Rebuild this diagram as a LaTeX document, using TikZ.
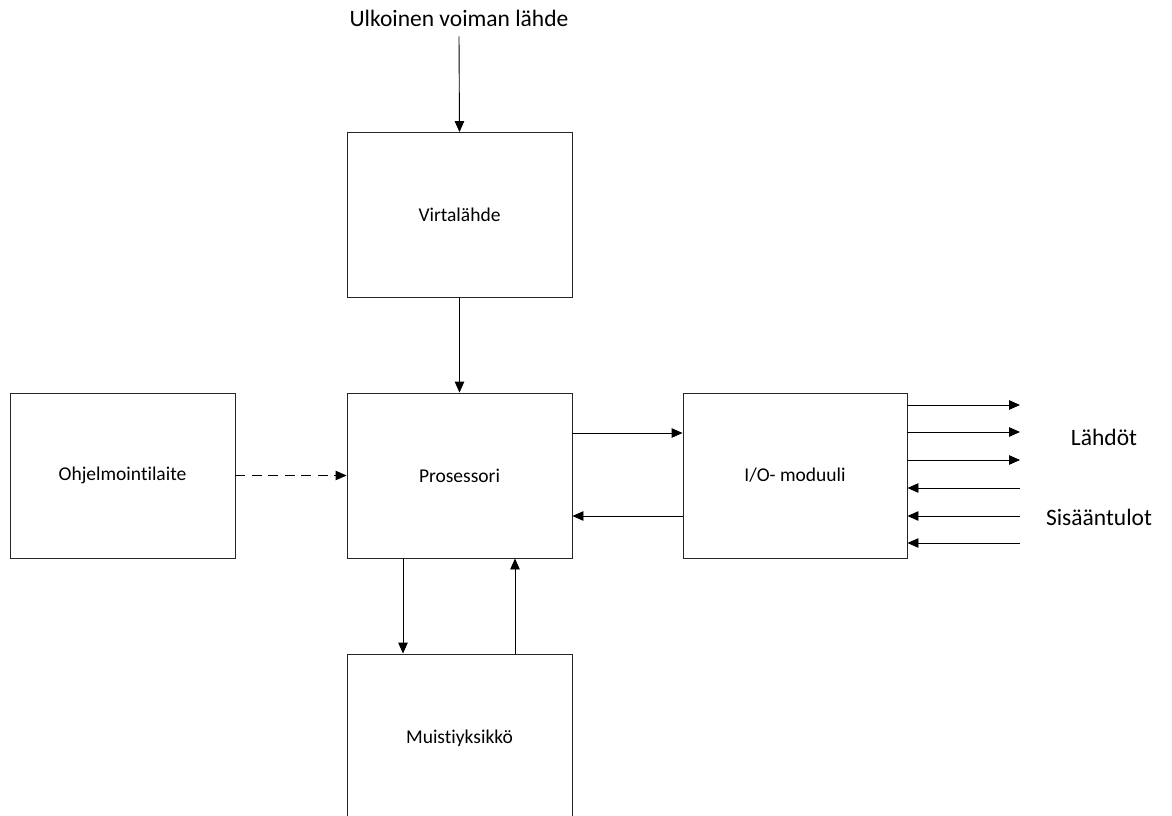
\documentclass[tikz,border=0pt]{standalone}
\usepackage{fontspec}
\setmainfont{Carlito}[Ligatures={NoCommon}]
\usetikzlibrary{arrows.meta}
\begin{document}
\begin{tikzpicture}[x=1pt,y=-1pt,
  block/.style={draw=black!85,line width=0.9pt,minimum width=225pt,minimum height=165pt,
    inner sep=0pt,font=\fontsize{19.5}{22}\selectfont},
  biglabel/.style={font=\fontsize{23.5}{27}\selectfont,inner sep=0pt},
  arr/.style={line width=0.9pt,-{Triangle[length=11pt,width=9.5pt]}},
  dasharr/.style={arr,dash pattern=on 10pt off 6.5pt}]
\useasboundingbox (0,0) rectangle (1172,816);

% blocks
\node[block] (virt) at (459.5,215) {Virtalähde};
\node[block] (proc) at (459.5,475.5) {Prosessori};
\node[block] (prog) at (122.5,475.5) {Ohjelmointilaite};
\node[block,minimum width=224pt] (io) at (795,475.5) {I/O- moduuli};
\node[block,minimum height=168pt] (mem) at (459.5,738) {Muistiyksikkö};

% external labels
\node[biglabel] (src) at (459,18) {Ulkoinen voiman lähde};
\node[biglabel] (outs) at (1104,437) {Lähdöt};
\node[biglabel] (ins) at (1099,517) {Sisääntulot};

% I/O line ends
\coordinate (o1) at (1020,405);
\coordinate (o2) at (1020,432);
\coordinate (o3) at (1020,460);
\coordinate (i1) at (1020,488);
\coordinate (i2) at (1020,516);
\coordinate (i3) at (1020,543);

% connectors
\draw[arr] ([yshift=-10pt]src.south) -- (virt.north);
\draw[arr] (virt.south) -- (proc.north);
\draw[dasharr] (prog.east) -- (proc.west);
\draw[arr] ([yshift=42.5pt]proc.east) -- ([yshift=42.5pt]io.west);
\draw[arr] ([yshift=-40.5pt]io.west) -- ([yshift=-40.5pt]proc.east);
\draw[arr] ([xshift=-56.5pt]proc.south) -- ([xshift=-56.5pt]mem.north);
\draw[arr] ([xshift=55.5pt]mem.north) -- ([xshift=55.5pt]proc.south);

\draw[arr] (io.east |- o1) -- (o1);
\draw[arr] (io.east |- o2) -- (o2);
\draw[arr] (io.east |- o3) -- (o3);
\draw[arr] (i1) -- (io.east |- i1);
\draw[arr] (i2) -- (io.east |- i2);
\draw[arr] (i3) -- (io.east |- i3);
\end{tikzpicture}
\end{document}
